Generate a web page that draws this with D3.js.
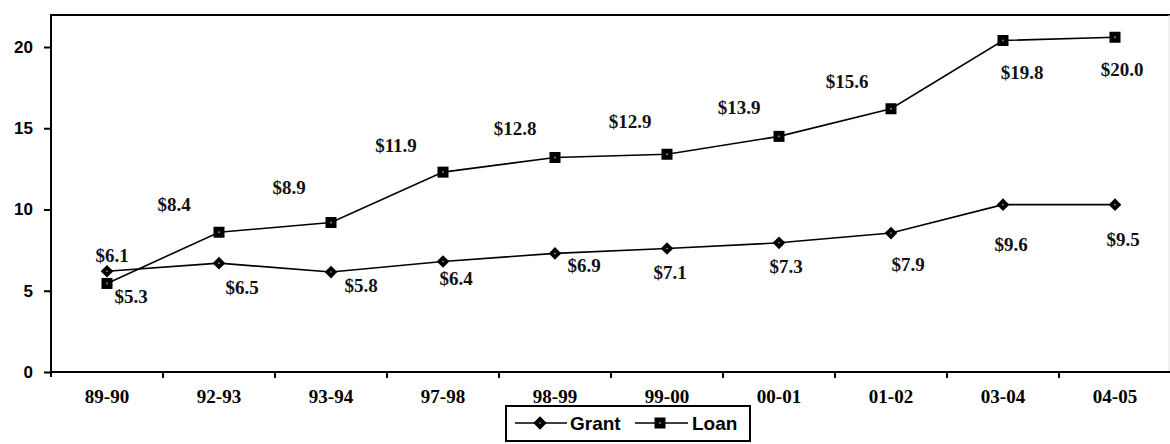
<!DOCTYPE html>
<html>
<head>
<meta charset="utf-8">
<script src="https://cdn.jsdelivr.net/npm/d3@7/dist/d3.min.js"></script>
<style>
  html, body { margin: 0; padding: 0; background: #fff; }
  svg { display: block; }
</style>
</head>
<body>
<svg id="chart" width="1170" height="444"></svg>
<script>
// ---- data ----
const categories = ["89-90","92-93","93-94","97-98","98-99","99-00","00-01","01-02","03-04","04-05"];
// plotted marker positions
const grantValues = [6.2, 6.7, 6.15, 6.8, 7.3, 7.6, 7.95, 8.55, 10.3, 10.3];
const loanValues  = [5.45, 8.6, 9.2, 12.3, 13.2, 13.4, 14.5, 16.2, 20.4, 20.6];
// printed data labels
const grantLabels = [6.1, 6.5, 5.8, 6.4, 6.9, 7.1, 7.3, 7.9, 9.6, 9.5];
const loanLabels  = [5.3, 8.4, 8.9, 11.9, 12.8, 12.9, 13.9, 15.6, 19.8, 20.0];
const yTicks = [0, 5, 10, 15, 20];
const seriesNames = ["Grant", "Loan"];

// ---- layout (label offsets relative to marker) ----
const grantLabelDx = [5, 23, 30, 13, 29, 3, 7, 17, 8, 8];
const grantLabelDy = [-16, 24, 13, 17, 12, 24, 24, 31, 40, 35];
const loanLabelDx  = [24, -45, -42, -47, -40, -37, -40, -44, 19, 7];
const loanLabelDy  = [13, -28, -35, -27, -29, -33, -29, -27, 32, 32];

const svg = d3.select("#chart");
const pLeft = 51, pRight = 1171, pTop = 15, pBottom = 372;

const x = d3.scaleBand().domain(categories).range([pLeft, pRight]).padding(0);
const y = d3.scaleLinear().domain([0, 22]).range([pBottom, 14.5]);
const cx = c => x(c) + x.bandwidth() / 2;

// frame: top border
svg.append("line").attr("x1", pLeft).attr("x2", 1170).attr("y1", pTop).attr("y2", pTop)
  .attr("stroke", "#000").attr("stroke-width", 2);
svg.append("line").attr("x1", 1169).attr("x2", 1169).attr("y1", pTop).attr("y2", pBottom)
  .attr("stroke", "#e4e4e4").attr("stroke-width", 1);

// y axis
const yAxis = d3.axisLeft(y).tickValues(yTicks).tickSize(7).tickPadding(11).tickFormat(d3.format("d"));
const gy = svg.append("g").attr("transform", `translate(${pLeft},0)`).call(yAxis);
gy.select(".domain").remove();
gy.selectAll(".tick line").attr("stroke", "#000").attr("stroke-width", 2);
gy.selectAll(".tick text").attr("font-family", "'Liberation Sans', Arial, sans-serif")
  .attr("font-weight", "bold").attr("font-size", 17).attr("fill", "#000");
svg.append("line").attr("x1", pLeft).attr("x2", pLeft).attr("y1", pTop - 1).attr("y2", pBottom + 5)
  .attr("stroke", "#000").attr("stroke-width", 2);

// x axis
const xAxis = d3.axisBottom(x).tickSize(0).tickPadding(18);
const gx = svg.append("g").attr("transform", `translate(0,${pBottom})`).call(xAxis);
gx.select(".domain").remove();
gx.selectAll(".tick text").attr("font-family", "'Liberation Serif', 'Times New Roman', serif")
  .attr("font-weight", "bold").attr("font-size", 19).attr("fill", "#000");
svg.append("line").attr("x1", pLeft).attr("x2", 1170).attr("y1", pBottom).attr("y2", pBottom)
  .attr("stroke", "#000").attr("stroke-width", 2);
// tick marks at band boundaries
svg.append("g").selectAll("line").data(categories.slice(1)).join("line")
  .attr("x1", d => x(d)).attr("x2", d => x(d))
  .attr("y1", pBottom).attr("y2", pBottom + 6)
  .attr("stroke", "#000").attr("stroke-width", 2);

// lines
const line = d3.line().x((d, i) => cx(categories[i])).y(d => y(d));
svg.append("path").datum(loanValues).attr("d", line)
  .attr("fill", "none").attr("stroke", "#000").attr("stroke-width", 1.6);
svg.append("path").datum(grantValues).attr("d", line)
  .attr("fill", "none").attr("stroke", "#000").attr("stroke-width", 1.6);

// markers
function drawDiamond(g, px, py, s) {
  g.append("path").attr("d", d3.symbol().type(d3.symbolSquare).size(s)())
    .attr("transform", `translate(${px},${py}) rotate(45)`).attr("fill", "#000");
  g.append("circle").attr("cx", px).attr("cy", py).attr("r", 0.8).attr("fill", "#bbb");
}
function drawSquare(g, px, py, s) {
  g.append("rect").attr("x", px - s / 2).attr("y", py - s / 2).attr("width", s).attr("height", s)
    .attr("fill", "#000");
  g.append("rect").attr("x", px - 0.8).attr("y", py - 0.8).attr("width", 1.6).attr("height", 1.6).attr("fill", "#999");
}
const gm = svg.append("g");
grantValues.forEach((v, i) => drawDiamond(gm, cx(categories[i]), y(v), 80));
loanValues.forEach((v, i) => drawSquare(gm, cx(categories[i]), y(v), 11));

// value labels
const labelFont = "'Liberation Serif', 'Times New Roman', serif";
const fmt = v => "$" + v.toFixed(1);
svg.append("g").selectAll("text").data(grantLabels).join("text")
  .attr("x", (d, i) => cx(categories[i]) + grantLabelDx[i])
  .attr("y", (d, i) => y(grantValues[i]) + grantLabelDy[i])
  .attr("dy", "0.35em").attr("text-anchor", "middle")
  .attr("font-family", labelFont).attr("font-weight", "bold").attr("font-size", 19)
  .attr("fill", "#111").text(fmt);
svg.append("g").selectAll("text").data(loanLabels).join("text")
  .attr("x", (d, i) => cx(categories[i]) + loanLabelDx[i])
  .attr("y", (d, i) => y(loanValues[i]) + loanLabelDy[i])
  .attr("dy", "0.35em").attr("text-anchor", "middle")
  .attr("font-family", labelFont).attr("font-weight", "bold").attr("font-size", 19)
  .attr("fill", "#111").text(fmt);

// legend
const lg = svg.append("g");
lg.append("rect").attr("x", 506).attr("y", 406).attr("width", 244).attr("height", 35)
  .attr("fill", "#fff").attr("stroke", "#000").attr("stroke-width", 2);
const legendFont = "'Liberation Sans', Arial, sans-serif";
// Grant
lg.append("line").attr("x1", 515).attr("x2", 567).attr("y1", 423).attr("y2", 423)
  .attr("stroke", "#000").attr("stroke-width", 1.6);
drawDiamond(lg, 540, 423, 90);
lg.append("text").attr("x", 570).attr("y", 423).attr("dy", "0.35em")
  .attr("font-family", legendFont).attr("font-weight", "bold").attr("font-size", 19)
  .attr("fill", "#000").text(seriesNames[0]);
// Loan
lg.append("line").attr("x1", 635).attr("x2", 688).attr("y1", 423).attr("y2", 423)
  .attr("stroke", "#000").attr("stroke-width", 1.6);
drawSquare(lg, 660, 423, 11);
lg.append("text").attr("x", 692).attr("y", 423).attr("dy", "0.35em")
  .attr("font-family", legendFont).attr("font-weight", "bold").attr("font-size", 19)
  .attr("fill", "#000").text(seriesNames[1]);
</script>
</body>
</html>
